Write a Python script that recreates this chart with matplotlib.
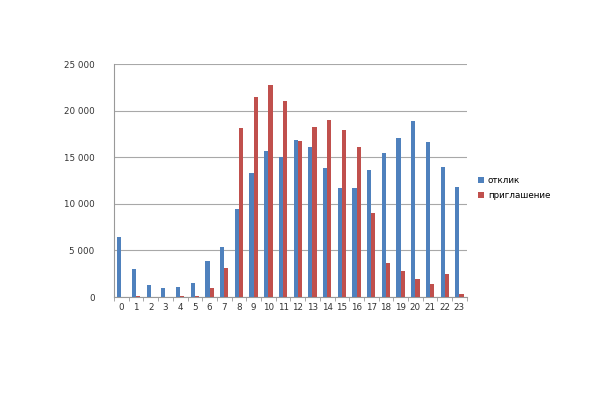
import matplotlib
matplotlib.use("Agg")
import matplotlib.pyplot as plt
from matplotlib.ticker import FuncFormatter, FixedLocator
import numpy as np

hours = list(range(24))
otklik = [6500, 3000, 1300, 950, 1050, 1500, 3900, 5400, 9450, 13300, 15700, 15000,
          16800, 16100, 13900, 11700, 11700, 13600, 15500, 17100, 18900, 16600, 14000, 11800]
priglashenie = [0, 100, 30, 0, 100, 150, 1000, 3100, 18100, 21500, 22700, 21000,
                16700, 18200, 19000, 17900, 16100, 9000, 3700, 2800, 1900, 1400, 2500, 350]
labels = ["отклик", "приглашение"]
colors = ["#4F81BD", "#C0504D"]

fig = plt.figure(figsize=(6.0, 3.93), dpi=100)
ax = fig.add_axes([0.19, 0.244, 0.588, 0.593])

x = np.arange(len(hours))
w = 0.286
ax.bar(x - w / 2, otklik, width=w, color=colors[0], label=labels[0], zorder=3)
ax.bar(x + w / 2, priglashenie, width=w, color=colors[1], label=labels[1], zorder=3)

ax.set_xlim(-0.5, 23.5)
ax.set_ylim(0, 25000)
ax.set_yticks(range(0, 25001, 5000))
ax.yaxis.set_major_formatter(FuncFormatter(lambda v, p: f"{int(v):,}".replace(",", " ")))
ax.set_xticks(x)
ax.set_xticklabels([str(h) for h in hours])
ax.xaxis.set_minor_locator(FixedLocator(np.arange(-0.5, 24, 1)))
ax.tick_params(axis="x", which="major", length=0, labelsize=6.3, pad=4, colors="#333333")
ax.tick_params(axis="x", which="minor", length=3, color="#999999")
ax.tick_params(axis="y", length=0, labelsize=6.3, pad=14, colors="#333333")

ax.grid(axis="y", color="#a8a8a8", linewidth=0.8, zorder=0)
for s in ["top", "right"]:
    ax.spines[s].set_visible(False)
ax.spines["left"].set_color("#999999")
ax.spines["bottom"].set_color("#999999")

fig.legend(loc="upper left", bbox_to_anchor=(0.79, 0.56), frameon=False,
           fontsize=6.3, handlelength=0.7, handleheight=0.7, labelspacing=0.6,
           handletextpad=0.5, borderaxespad=0)

fig.savefig("out.png", dpi=100, facecolor="white")
